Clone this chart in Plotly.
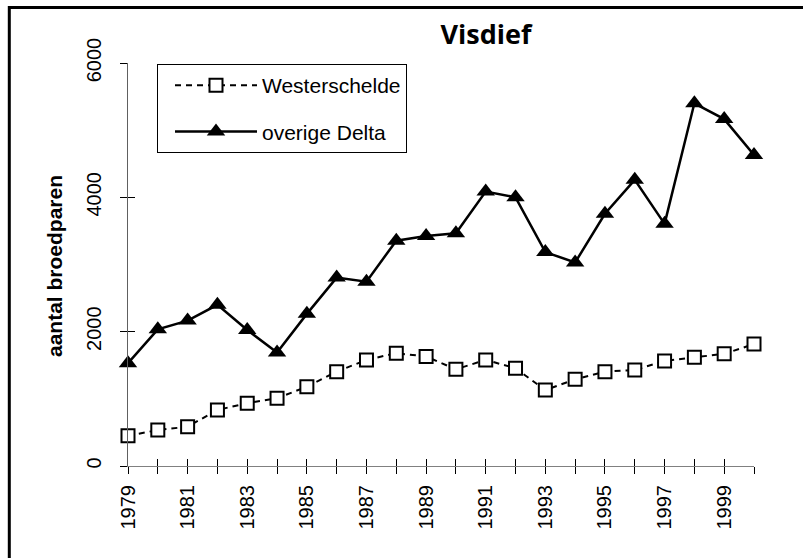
import plotly.graph_objects as go

years = list(range(1979, 2001))
westerschelde = [450, 535, 585, 835, 935, 1010, 1180, 1405, 1580, 1680, 1630,
                 1440, 1580, 1455, 1130, 1290, 1405, 1430, 1565, 1620, 1670, 1815]
overige_delta = [1530, 2035, 2165, 2400, 2025, 1690, 2265, 2805, 2745, 3355, 3425,
                 3465, 4085, 4000, 3185, 3030, 3755, 4260, 3605, 5400, 5165, 4630]
x_ticktext = [str(y) if (y - 1979) % 2 == 0 else "" for y in years]
y_tickvals = [0, 2000, 4000, 6000]

W, H = 803, 558
L, R, T, B = 128, 49, 63, 92
PW, PH = W - L - R, H - T - B

def px_x(px):
    return (px - L) / PW

def px_y(py):
    return (H - B - py) / PH

AR = "Arial, Liberation Sans, sans-serif"

fig = go.Figure()
fig.add_trace(go.Scatter(
    x=years, y=westerschelde, name="Westerschelde", mode="lines+markers",
    line=dict(color="black", width=2, dash="6px,5px"),
    marker=dict(symbol="square", size=13, color="white",
                line=dict(color="black", width=2)),
    cliponaxis=False, legendgroup="a"))
fig.add_trace(go.Scatter(
    x=years, y=overige_delta, name="overige Delta", mode="lines+markers",
    line=dict(color="black", width=2.5),
    marker=dict(symbol="triangle-up", size=16, color="black"),
    cliponaxis=False, legendgroup="b"))
fig.add_trace(go.Scatter(x=[None], y=[None], xaxis="x2", yaxis="y2",
                         showlegend=False, hoverinfo="skip"))

common_x = dict(range=[1979, 2000], tickvals=years, showgrid=False, zeroline=False,
                ticklen=7, tickcolor="black", tickwidth=1)
common_y = dict(range=[0, 6000], tickvals=y_tickvals, showgrid=False, zeroline=False,
                ticklen=7, tickcolor="black", tickwidth=1)

fig.update_layout(
    width=W, height=H,
    margin=dict(l=L, r=R, t=T, b=B, autoexpand=False),
    paper_bgcolor="white", plot_bgcolor="white",
    title=dict(text="Visdief", x=486 / W, xanchor="center", xref="container",
               y=1 - 35 / H, yanchor="middle", yref="container",
               font=dict(family="Open Sans", size=27, color="black", weight="bold")),
    xaxis=dict(**common_x, ticktext=x_ticktext, ticks="outside", showline=True,
               linecolor="#808080", linewidth=1, tickangle=-90,
               ticklabelstandoff=3,
               tickfont=dict(family=AR, size=20, color="black")),
    yaxis=dict(**common_y, ticks="outside", showline=True, linecolor="#606060",
               linewidth=1, tickangle=-90, ticklabelstandoff=11,
               tickfont=dict(family=AR, size=20, color="black")),
    xaxis2=dict(**common_x, overlaying="x", anchor="y", side="bottom",
                ticks="inside", showticklabels=False, showline=False),
    yaxis2=dict(**common_y, overlaying="y", anchor="x", side="left",
                ticks="inside", showticklabels=False, showline=False),
    legend=dict(x=px_x(157), y=px_y(64), xanchor="left", yanchor="top",
                bordercolor="black", borderwidth=1, bgcolor="white",
                font=dict(family=AR, size=21, color="black"),
                itemwidth=82, indentation=12,
                traceorder="grouped", tracegroupgap=16),
    showlegend=True,
    annotations=[dict(text="<b>aantal broedparen</b>", textangle=-90,
                      xref="paper", yref="paper", x=px_x(54.5), y=px_y(266.5),
                      xanchor="center", yanchor="middle", showarrow=False,
                      font=dict(family=AR, size=21, color="black"))],
    shapes=[dict(type="rect", xref="paper", yref="paper",
                 x0=px_x(9.3), x1=px_x(900), y0=px_y(650), y1=px_y(7.5),
                 line=dict(color="black", width=3), fillcolor="rgba(0,0,0,0)",
                 layer="above")],
)

fig.write_html("out.html", config={"displayModeBar": False},
               post_script="document.body.style.margin='0';document.body.style.overflow='hidden';")
